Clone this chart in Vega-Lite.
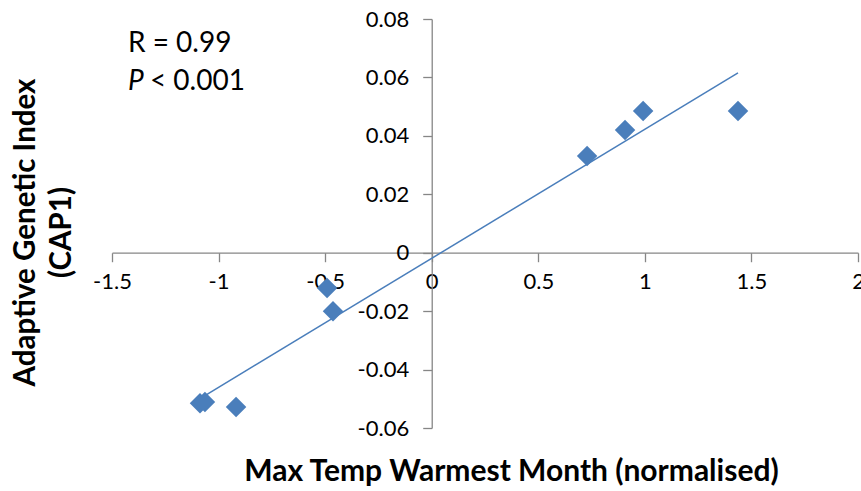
{
  "$schema": "https://vega.github.io/schema/vega-lite/v6.json",
  "width": 746,
  "height": 409,
  "autosize": "none",
  "padding": {"left": 112, "top": 19, "right": 3, "bottom": 63},
  "background": "white",
  "config": {"view": {"stroke": null}, "font": "Lato"},
  "datasets": {
    "pts": [
      {"x": -1.087, "y": -0.0515},
      {"x": -1.064, "y": -0.0511},
      {"x": -0.918, "y": -0.0528},
      {"x": -0.491, "y": -0.0121},
      {"x": -0.463, "y": -0.0200},
      {"x": 0.729, "y": 0.0331},
      {"x": 0.907, "y": 0.0420},
      {"x": 0.992, "y": 0.0485},
      {"x": 1.437, "y": 0.0485}
    ],
    "ann": [
      {"x": -1.425, "y": 0.0687, "t": "R = 0.99"},
      {"x": -1.322, "y": 0.0557, "t": "< 0.001"}
    ],
    "annP": [
      {"x": -1.425, "y": 0.0557, "t": "P"}
    ]
  },
  "encoding": {
    "x": {
      "field": "x", "type": "quantitative",
      "scale": {"domain": [-1.5, 2], "nice": false, "zero": false},
      "axis": {
        "values": [-1.5, -1, -0.5, 0, 0.5, 1, 1.5, 2],
        "labelExpr": "toString(datum.value)",
        "grid": false,
        "domainColor": "#868686", "domainWidth": 1.3,
        "tickColor": "#868686", "tickWidth": 1.3, "tickSize": 9,
        "labelFontSize": 22, "labelColor": "black", "labelPadding": 10,
        "labelFlush": false, "labelOverlap": false,
        "offset": {"expr": "scale('y', 0) - height"},
        "title": "Max Temp Warmest Month (normalised)",
        "titleFontSize": 30, "titleFontWeight": "bold", "titleColor": "black",
        "titleBaseline": "middle",
        "titleX": 399,
        "titleY": {"expr": "height - scale('y', 0) + 43"}
      }
    },
    "y": {
      "field": "y", "type": "quantitative",
      "scale": {"domain": [-0.06, 0.08], "nice": false, "zero": false},
      "axis": {
        "values": [-0.06, -0.04, -0.02, 0, 0.02, 0.04, 0.06, 0.08],
        "labelExpr": "toString(datum.value)",
        "grid": false,
        "domainColor": "#868686", "domainWidth": 1.3,
        "tickColor": "#868686", "tickWidth": 1.3, "tickSize": 9,
        "labelFontSize": 22, "labelColor": "black", "labelPadding": 14,
        "labelFlush": false, "labelOverlap": false,
        "offset": {"expr": "-scale('x', 0)"},
        "title": ["Adaptive Genetic Index", "(CAP1)"],
        "titleFontSize": 29.5, "titleFontWeight": "bold", "titleColor": "black",
        "titleBaseline": "middle", "titleLineHeight": 36,
        "titleX": {"expr": "-scale('x', 0) - 87"},
        "titleY": 213
      }
    }
  },
  "layer": [
    {
      "data": {"name": "pts"},
      "transform": [{"regression": "y", "on": "x"}],
      "mark": {"type": "line", "color": "#4a7ebb", "strokeWidth": 1.5}
    },
    {
      "data": {"name": "pts"},
      "mark": {"type": "point", "shape": "diamond", "filled": true, "size": 420, "color": "#4a7ebb", "opacity": 1}
    },
    {
      "data": {"name": "ann"},
      "mark": {"type": "text", "align": "left", "baseline": "alphabetic", "fontSize": 28, "color": "black"},
      "encoding": {"text": {"field": "t"}}
    },
    {
      "data": {"name": "annP"},
      "mark": {"type": "text", "align": "left", "baseline": "alphabetic", "fontSize": 28, "fontStyle": "italic", "color": "black"},
      "encoding": {"text": {"field": "t"}}
    }
  ]
}
